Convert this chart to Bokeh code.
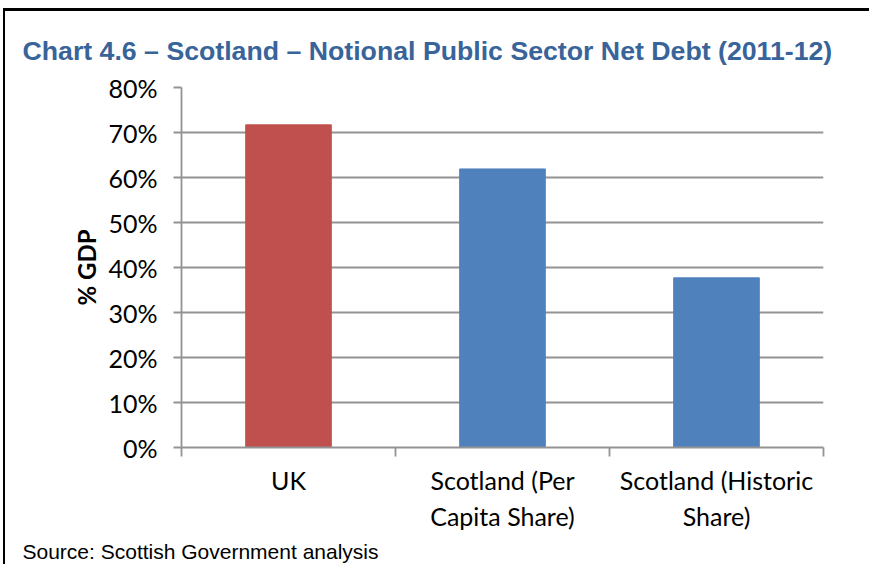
from bokeh.plotting import figure
from bokeh.models import (Range1d, FixedTicker, PrintfTickFormatter, ColumnDataSource,
                          LinearAxis, Title)
from bokeh.embed import file_html
from bokeh.resources import INLINE

# ---- data ----
categories = ["UK", "Scotland (Per\nCapita Share)", "Scotland (Historic\nShare)"]
values = [71.7, 61.9, 37.7]
bar_colors = ["#C0504D", "#4F81BD", "#4F81BD"]
y_ticks = [0, 10, 20, 30, 40, 50, 60, 70, 80]
title_text = "Chart 4.6 \u2013 Scotland \u2013 Notional Public Sector Net Debt (2011-12)"
source_text = "Source: Scottish Government analysis"
y_label = "% GDP"

GRID = "#939393"
W, H = 866, 556
FL, FR, FT, FB = 176, 48, 76, 120

p = figure(width=W, height=H, output_backend="svg", toolbar_location=None,
           x_range=Range1d(0, 3), y_range=Range1d(0, 80),
           min_border_left=FL, min_border_right=FR,
           min_border_top=FT, min_border_bottom=FB)
p.styles = {"border-top": "3px solid black", "border-left": "2px solid black",
            "margin-top": "8px", "margin-left": "3px"}
p.outline_line_color = None
p.background_fill_color = "white"
p.border_fill_color = "white"

centers = [i + 0.5 for i in range(len(categories))]
src = ColumnDataSource(dict(x=centers, top=values, color=bar_colors))
p.vbar(x="x", top="top", width=0.4, color="color", source=src)

# grid
p.xgrid.visible = False
p.ygrid.ticker = FixedTicker(ticks=y_ticks)
p.ygrid.grid_line_color = GRID
p.ygrid.grid_line_width = 1.8

# y axis
ya = p.yaxis[0]
ya.ticker = FixedTicker(ticks=y_ticks)
ya.formatter = PrintfTickFormatter(format="%d%%")
ya.axis_line_color = GRID
ya.axis_line_width = 1.8
ya.major_tick_line_color = GRID
ya.major_tick_line_width = 1.8
ya.major_tick_out = 8
ya.major_tick_in = 0
ya.minor_tick_line_color = None
ya.major_label_standoff = 16
ya.major_label_text_font = "Lato"
ya.major_label_text_font_size = "25px"
ya.major_label_text_color = "black"
ya.axis_label = y_label
ya.axis_label_text_font = "Lato"
ya.axis_label_text_font_style = "bold"
ya.axis_label_text_font_size = "24px"
ya.axis_label_text_color = "black"
ya.axis_label_standoff = 4

# x axis (ticks at category boundaries, no labels)
boundaries = list(range(len(categories) + 1))
xa = p.xaxis[0]
xa.ticker = FixedTicker(ticks=boundaries)
xa.major_label_overrides = {b: "" for b in boundaries}
xa.major_label_text_font_size = "1px"
xa.major_label_standoff = 0
xa.axis_line_color = GRID
xa.axis_line_width = 1.8
xa.major_tick_line_color = GRID
xa.major_tick_line_width = 1.8
xa.major_tick_out = 9
xa.major_tick_in = 0
xa.minor_tick_line_color = None

# category label axis
ca = LinearAxis(ticker=FixedTicker(ticks=centers),
                major_label_overrides={c: cat for c, cat in zip(centers, categories)})
ca.axis_line_color = None
ca.major_tick_line_color = None
ca.minor_tick_line_color = None
ca.major_tick_out = 0
ca.major_tick_in = 0
ca.major_label_standoff = 8
ca.major_label_text_font = "Lato"
ca.major_label_text_font_size = "25px"
ca.major_label_text_color = "black"
p.add_layout(ca, "below")

# title
p.title.text = title_text
p.title.align = "left"
p.title.offset = -159
p.title.text_font = "Liberation Sans"
p.title.text_font_style = "bold"
p.title.text_font_size = "26.7px"
p.title.text_color = "#38649A"
p.title.standoff = 43

# source
src_title = Title(text=source_text, align="left", offset=-159,
                  text_font="Liberation Sans", text_font_style="normal",
                  text_font_size="21px", text_color="black", standoff=9)
p.add_layout(src_title, "below")

open("out.html", "w").write(file_html(p, INLINE))
